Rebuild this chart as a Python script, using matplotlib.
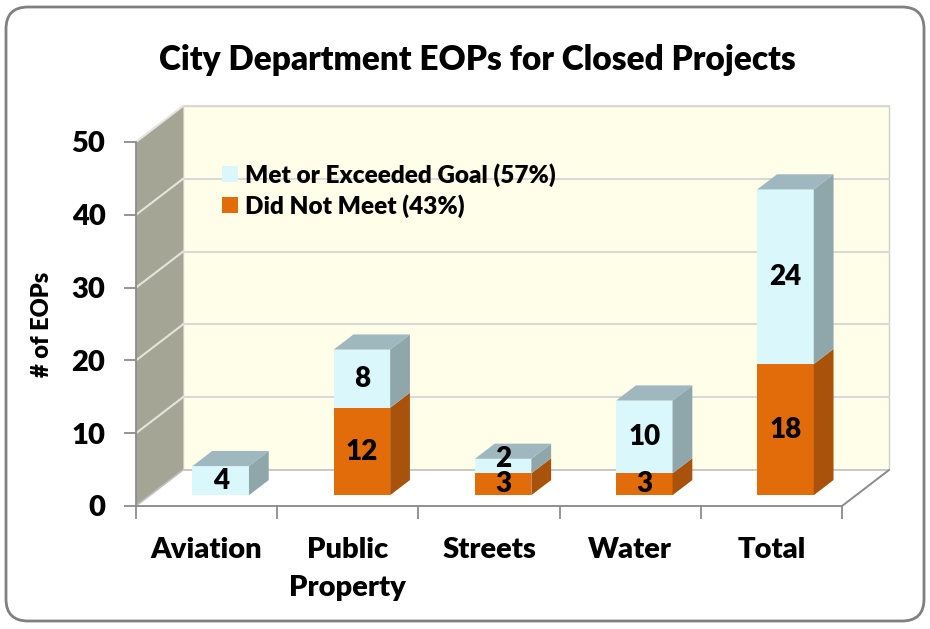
import numpy as np
import matplotlib.pyplot as plt
from matplotlib.patches import Polygon, Patch, FancyBboxPatch

# data
categories = ['Aviation', 'Public\nProperty', 'Streets', 'Water', 'Total']
did_not_meet = [0, 12, 3, 3, 18]
met_goal = [4, 8, 2, 10, 24]
y_ticks = [0, 10, 20, 30, 40, 50]
legend_labels = ['Met or Exceeded Goal (57%)', 'Did Not Meet (43%)']
title = 'City Department EOPs for Closed Projects'

W = 'heavy'
plt.rcParams['font.family'] = ['Lato', 'DejaVu Sans']
plt.rcParams['font.weight'] = W

# colours
c_met, c_met_side, c_met_top = '#DAF8FC', '#8FA6AB', '#9FB7BE'
c_not, c_not_side, c_not_top = '#E36C0A', '#A8520B', '#C45E0A'
c_back, c_left, c_floor = '#FFFFE9', '#A5A595', '#FFFFFF'
c_grid, c_axis = '#D9D9D9', '#8C8C8C'

fig = plt.figure(figsize=(9.3, 6.29), dpi=100)
ax = fig.add_axes([136 / 930, 123 / 629, 706 / 930, 364 / 629])
ax.set_xlim(-0.5, len(categories) - 0.5)
ax.set_ylim(y_ticks[0], y_ticks[-1])
ax.patch.set_visible(False)

# depth of the pseudo 3d box (in data units) and bar placement
DX, DY = 1 / 3, 4.95
f0, f1 = 0.30, 0.72
w = 0.40
x_lo, x_hi = -0.5, len(categories) - 0.5
y_top = y_ticks[-1]


def poly(pts, color, z, ec='none', lw=0):
    ax.add_patch(Polygon(pts, closed=True, fc=color, ec=ec, lw=lw,
                         zorder=z, clip_on=False))


# walls and floor
poly([(x_lo + DX, DY), (x_hi + DX, DY), (x_hi + DX, y_top + DY),
      (x_lo + DX, y_top + DY)], c_back, 0, ec='#D0D0C8', lw=1)
poly([(x_lo, 0), (x_lo + DX, DY), (x_lo + DX, y_top + DY), (x_lo, y_top)],
     c_left, 0.5)
poly([(x_lo, 0), (x_hi, 0), (x_hi + DX, DY), (x_lo + DX, DY)], c_floor, 0.6,
     ec='#C0C0C0', lw=1.2)

for v in y_ticks[1:]:
    ax.plot([x_lo + DX, x_hi + DX], [v + DY, v + DY], color=c_grid, lw=1.5,
            zorder=1, clip_on=False)
    ax.plot([x_lo, x_lo + DX], [v, v + DY], color='#E4E4DC', lw=1.5,
            zorder=1, clip_on=False)

# bars
for i, (a, b) in enumerate(zip(did_not_meet, met_goal)):
    x0 = i - w / 2 + f0 * DX
    x1 = x0 + w
    segs = [(0, a, c_not, c_not_side), (a, a + b, c_met, c_met_side)]
    for lo, hi, cf, cs in segs:
        if hi <= lo:
            continue
        ylo, yhi = lo + f0 * DY, hi + f0 * DY
        poly([(x0, ylo), (x1, ylo), (x1, yhi), (x0, yhi)], cf, 3)
        poly([(x1, ylo), (x1 + (f1 - f0) * DX, ylo + (f1 - f0) * DY),
              (x1 + (f1 - f0) * DX, yhi + (f1 - f0) * DY), (x1, yhi)], cs, 3)
        # small upper segments get their label lifted a little
        nudge = 5 if (hi - lo < 3 and lo > 0) else 0
        ax.annotate(str(hi - lo), ((x0 + x1) / 2, (ylo + yhi) / 2),
                    xytext=(0, nudge), textcoords='offset points',
                    ha='center', va='center', fontsize=20, fontweight=W,
                    zorder=5)
    top = a + b + f0 * DY
    ctop = c_met_top if b > 0 else c_not_top
    poly([(x0, top), (x1, top), (x1 + (f1 - f0) * DX, top + (f1 - f0) * DY),
          (x0 + (f1 - f0) * DX, top + (f1 - f0) * DY)], ctop, 3)

# axes
for s in ['top', 'right']:
    ax.spines[s].set_visible(False)
for s in ['left', 'bottom']:
    ax.spines[s].set_color(c_axis)
    ax.spines[s].set_linewidth(1.3)
    ax.spines[s].set_zorder(2)
ax.set_yticks(y_ticks)
ax.tick_params(axis='y', length=9, width=1.3, color=c_axis, labelsize=21,
               pad=13)
ax.set_xticks(range(len(categories)))
ax.set_xticklabels(categories, fontsize=21, linespacing=1.6)
ax.set_xticks(np.arange(len(categories) + 1) - 0.5, minor=True)
ax.tick_params(axis='x', which='major', length=0, pad=22)
ax.tick_params(axis='x', which='minor', length=9, width=1.3, color=c_axis)
for lab in ax.get_xticklabels() + ax.get_yticklabels():
    lab.set_fontweight(W)
ax.plot([x_hi, x_hi + DX], [0, DY], color=c_axis, lw=1.3, zorder=2,
        clip_on=False)
ax.set_ylabel('# of EOPs', fontsize=17, fontweight=W, labelpad=13)

handles = [Patch(fc=c_met, ec='none'), Patch(fc=c_not, ec='none')]
ax.legend(handles, legend_labels, loc='upper left',
          bbox_to_anchor=(200 / 930, 1 - 141 / 629),
          bbox_transform=fig.transFigure, frameon=False,
          handlelength=0.65, handleheight=0.65, handletextpad=0.3,
          labelspacing=0.3, prop={'weight': W, 'size': 17.5})

fig.text(477 / 930, 1 - 60 / 629, title, ha='center', va='center',
         fontsize=24, fontweight=W)

# rounded frame
frame = FancyBboxPatch((0.06, 0.08), 9.18, 6.14,
                       boxstyle='round,pad=0,rounding_size=0.22',
                       transform=fig.dpi_scale_trans, fc='none', ec='#808080',
                       lw=2)
fig.patches.append(frame)

fig.savefig('out.png', dpi=100)
